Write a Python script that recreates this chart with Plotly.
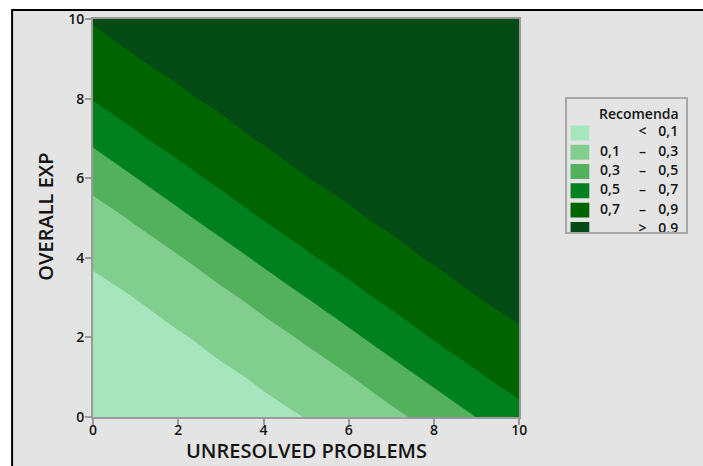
import plotly.graph_objects as go

# Grid of the two predictors
unresolved_problems = [0, 1, 2, 3, 4, 5, 6, 7, 8, 9, 10]
overall_exp = [0, 1, 2, 3, 4, 5, 6, 7, 8, 9, 10]

# Fitted probability of recommending; one row per OVERALL EXP value (0..10)
recommend_prob = [
    [0.007, 0.013, 0.022, 0.037, 0.062, 0.103, 0.165, 0.254, 0.370, 0.503, 0.636],
    [0.015, 0.026, 0.044, 0.073, 0.120, 0.191, 0.289, 0.412, 0.547, 0.676, 0.782],
    [0.031, 0.052, 0.086, 0.140, 0.220, 0.327, 0.456, 0.591, 0.713, 0.811, 0.881],
    [0.062, 0.102, 0.163, 0.252, 0.367, 0.500, 0.633, 0.748, 0.837, 0.898, 0.938],
    [0.119, 0.189, 0.287, 0.409, 0.544, 0.673, 0.780, 0.860, 0.914, 0.948, 0.969],
    [0.218, 0.324, 0.453, 0.588, 0.711, 0.809, 0.880, 0.927, 0.956, 0.974, 0.985],
    [0.364, 0.497, 0.630, 0.746, 0.835, 0.897, 0.938, 0.963, 0.978, 0.987, 0.993],
    [0.541, 0.671, 0.778, 0.858, 0.913, 0.947, 0.969, 0.982, 0.989, 0.994, 0.996],
    [0.709, 0.807, 0.879, 0.926, 0.956, 0.974, 0.985, 0.991, 0.995, 0.997, 0.998],
    [0.834, 0.896, 0.937, 0.963, 0.978, 0.987, 0.992, 0.996, 0.997, 0.999, 0.999],
    [0.912, 0.947, 0.968, 0.981, 0.989, 0.994, 0.996, 0.998, 0.999, 0.999, 1.000],
]

# Contour levels and band colours (lowest band first)
level_start, level_end, level_step = 0.1, 0.9, 0.2
band_colors = ["#a7e6bd", "#81ce8f", "#53b05c", "#00801f", "#006400", "#044b16"]

# Legend text columns
legend_title = "Recomenda"
legend_low = ["", "0,1", "0,3", "0,5", "0,7", ""]
legend_sep = ["<", "\u2013", "\u2013", "\u2013", "\u2013", ">"]
legend_high = ["0,1", "0,3", "0,5", "0,7", "0,9", "0,9"]

x_ticks = [0, 2, 4, 6, 8, 10]
y_ticks = [0, 2, 4, 6, 8, 10]

FONT = "Open Sans"
INK = "#141414"
AXIS_GREY = "#9a9a9a"

W, H = 703, 466
ML, MR, MT, MB = 93, 9, 17, 49
PW = W - ML - MR
PH = H - MT - MB

def px_x(p):
    return (p - ML) / PW

def px_y(p):
    return (H - MB - p) / PH

fig = go.Figure()

n = len(band_colors) - 1
fig.add_trace(go.Contour(
    x=unresolved_problems, y=overall_exp, z=recommend_prob,
    autocontour=False,
    contours=dict(start=level_start, end=level_end, size=level_step,
                  coloring="fill", showlines=False),
    colorscale=[[i / n, c] for i, c in enumerate(band_colors)],
    line=dict(width=0),
    showscale=False, hoverinfo="skip",
    xaxis="x", yaxis="y",
))

# Legend panel drawn as its own small subplot (coordinates in pixels from its top-left)
box_left, box_right, box_top, box_bottom = 573, 694, 97, 231
box_w = box_right - box_left
box_h = box_bottom - box_top
row_top0, row_gap, sw_h = 27, 19.4, 15
row_mid = [row_top0 + row_gap * k + sw_h / 2 for k in range(len(band_colors))]

for k, c in enumerate(band_colors):
    top = row_top0 + row_gap * k
    fig.add_shape(type="rect", xref="x2", yref="y2", x0=4, x1=23, y0=top, y1=top + sw_h,
                  fillcolor=c, line=dict(width=0), layer="above")

text_font = dict(family=FONT, size=14, color=INK, weight=600)
for col_x, col_text in ((44, legend_low), (77, legend_sep), (103, legend_high)):
    fig.add_trace(go.Scatter(
        x=[col_x] * len(col_text), y=row_mid, text=col_text, mode="text",
        textposition="middle center", textfont=text_font, cliponaxis=True,
        hoverinfo="skip", showlegend=False, xaxis="x2", yaxis="y2",
    ))

fig.add_annotation(x=73.5, y=15, xref="x2", yref="y2", text=legend_title,
                   showarrow=False, font=text_font, xanchor="center", yanchor="middle")

# Grey panel with black frame behind everything
fig.add_shape(type="rect", xref="paper", yref="paper",
              x0=px_x(11), x1=px_x(740), y0=px_y(500), y1=px_y(8),
              fillcolor="#e4e4e4", line=dict(color="black", width=2), layer="below")

# Axis titles
title_font = dict(family=FONT, size=20, color=INK, weight=600)
fig.add_annotation(x=px_x(309), y=px_y(451), xref="paper", yref="paper",
                   text="UNRESOLVED PROBLEMS", showarrow=False, font=title_font,
                   xanchor="center", yanchor="middle")
fig.add_annotation(x=px_x(44), y=px_y(216), xref="paper", yref="paper",
                   text="OVERALL EXP", showarrow=False, font=title_font, textangle=-90,
                   xanchor="center", yanchor="middle")

axis_common = dict(
    showgrid=False, zeroline=False, showline=True, mirror=True,
    linecolor=AXIS_GREY, linewidth=2, ticks="outside", ticklen=6, tickwidth=1.5,
    tickcolor=AXIS_GREY, tickfont=dict(family=FONT, size=14, color=INK, weight=600),
)

fig.update_layout(
    width=W, height=H,
    margin=dict(l=ML, r=MR, t=MT, b=MB, pad=0),
    paper_bgcolor="white", plot_bgcolor="white",
    showlegend=False,
    xaxis=dict(domain=[0, px_x(525)], range=[0, 10], tickvals=x_ticks, anchor="y",
               ticklabelstandoff=-7, **axis_common),
    yaxis=dict(domain=[0, 1], range=[0, 10], tickvals=y_ticks, anchor="x",
               ticklabelstandoff=-2, **axis_common),
    xaxis2=dict(domain=[px_x(box_left), px_x(box_right)], range=[0, box_w], anchor="y2",
                showgrid=False, zeroline=False, showticklabels=False, ticks="",
                showline=True, mirror=True, linecolor="#a8a8a8", linewidth=1.5, fixedrange=True),
    yaxis2=dict(domain=[px_y(box_bottom), px_y(box_top)], range=[box_h, 0], anchor="x2",
                showgrid=False, zeroline=False, showticklabels=False, ticks="",
                showline=True, mirror=True, linecolor="#a8a8a8", linewidth=1.5, fixedrange=True),
)

fig.write_html("out.html")
